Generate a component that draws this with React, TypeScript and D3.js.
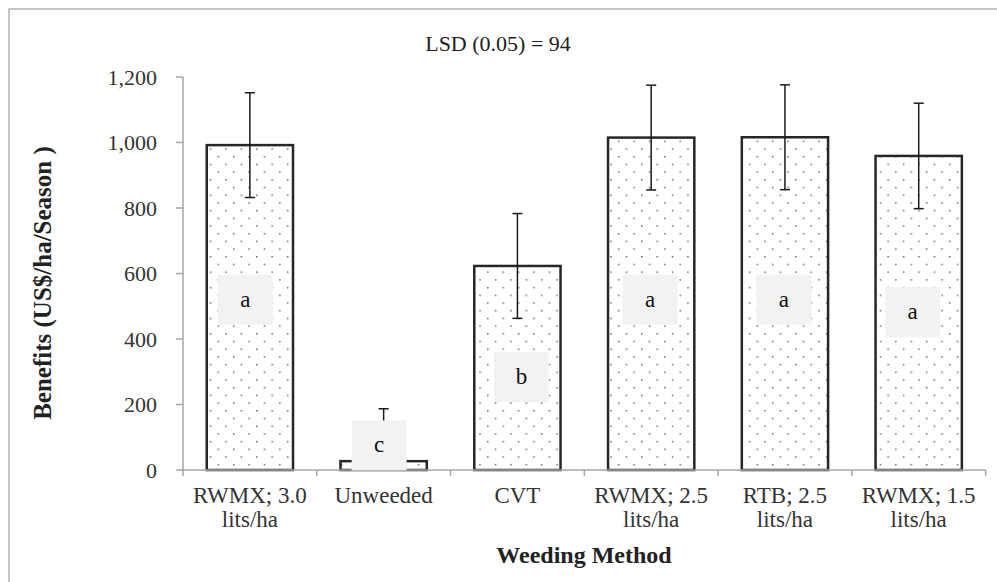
import React from "react";
import * as d3 from "d3";

const categories = ["RWMX; 3.0|lits/ha", "Unweeded", "CVT", "RWMX; 2.5|lits/ha", "RTB; 2.5|lits/ha", "RWMX; 1.5|lits/ha"];
const values = [992, 27, 623, 1015, 1016, 959];
const errors = [160, 160, 160, 160, 160, 161];
const letters = ["a", "c", "b", "a", "a", "a"];
const letterLevels = [520, 75, 284, 520, 520, 482];
const yTicks = [0, 200, 400, 600, 800, 1000, 1200];

const W = 997, H = 582;
const left = 183, right = 985.6, top = 77, bottom = 470;
const serif = "'Liberation Serif', 'Times New Roman', serif";

export default function App() {
  const x = d3.scaleBand<string>().domain(categories).range([left, right]).paddingInner(0.355).paddingOuter(0.1775);
  const y = d3.scaleLinear().domain([0, 1200]).range([bottom, top]);
  const step = x.step();
  const fmt = d3.format(",");
  const boxOffsets = [-4.5, -4.5, 4, -1, -1, -6];
  return (
    <svg width={W} height={H} style={{ position: "absolute", left: 0, top: 0, background: "#fff" }} fontFamily={serif}>
      <defs>
        <pattern id="dots" patternUnits="userSpaceOnUse" width={15.4} height={15.4} x={0} y={0}>
          <rect x={2} y={2} width={1.4} height={1.4} fill="#555" />
          <rect x={9.7} y={9.7} width={1.4} height={1.4} fill="#555" />
        </pattern>
      </defs>
      <rect x={9} y={9} width={1200} height={1200} fill="#fff" stroke="#b3b3b3" strokeWidth={1.5} />
      <text x={498} y={51} textAnchor="middle" fontSize={22} fill="#222">LSD (0.05) = 94</text>
      {/* y axis */}
      <line x1={left} x2={left} y1={top} y2={bottom} stroke="#a6a6a6" strokeWidth={1.5} />
      {yTicks.map((t) => (
        <g key={t}>
          <line x1={left - 7} x2={left} y1={y(t)} y2={y(t)} stroke="#a6a6a6" strokeWidth={1.5} />
          <text x={157} y={y(t) + 7.5} textAnchor="end" fontSize={22} fill="#333">{fmt(t)}</text>
        </g>
      ))}
      {/* bars */}
      {categories.map((c, i) => {
        const bx = x(c)!;
        const bw = x.bandwidth();
        const yt = y(values[i]);
        return (
          <g key={c}>
            <rect x={bx} y={yt} width={bw} height={bottom - yt} fill="#fff" />
            <rect x={bx} y={yt} width={bw} height={bottom - yt} fill="url(#dots)" stroke="#262626" strokeWidth={2.5} />
          </g>
        );
      })}
      {/* x axis */}
      <line x1={left} x2={right} y1={bottom} y2={bottom} stroke="#a6a6a6" strokeWidth={1.5} />
      {d3.range(categories.length + 1).map((k) => (
        <line key={k} x1={left + k * step} x2={left + k * step} y1={bottom} y2={bottom + 6} stroke="#a6a6a6" strokeWidth={1.5} />
      ))}
      {/* error bars */}
      {categories.map((c, i) => {
        const cx = x(c)! + x.bandwidth() / 2;
        const y1 = y(values[i] + errors[i]);
        const y0 = y(Math.max(0, values[i] - errors[i]));
        return (
          <g key={"e" + c} stroke="#1a1a1a" strokeWidth={1.5}>
            <line x1={cx} x2={cx} y1={y1} y2={y0} />
            <line x1={cx - 5} x2={cx + 5} y1={y1} y2={y1} />
            {values[i] - errors[i] > 0 && <line x1={cx - 5} x2={cx + 5} y1={y0} y2={y0} />}
          </g>
        );
      })}
      {/* letter labels */}
      {categories.map((c, i) => {
        const cx = x(c)! + x.bandwidth() / 2 + boxOffsets[i];
        const cy = y(letterLevels[i]);
        return (
          <g key={"l" + c}>
            <rect x={cx - 27.5} y={cy - 25} width={55} height={50} fill="#f2f2f2" />
            <text x={cx} y={cy + 7} textAnchor="middle" fontSize={23} fill="#111">{letters[i]}</text>
          </g>
        );
      })}
      {/* category labels */}
      {categories.map((c) => {
        const cx = x(c)! + x.bandwidth() / 2;
        return (
          <text key={"t" + c} textAnchor="middle" fontSize={23} fill="#333">
            {c.split("|").map((line, j) => (
              <tspan key={j} x={cx} y={503 + j * 24}>{line}</tspan>
            ))}
          </text>
        );
      })}
      <text x={584} y={563} textAnchor="middle" fontSize={24} fontWeight="bold" fill="#222">Weeding Method</text>
      <text transform={`translate(51,283) rotate(-90)`} textAnchor="middle" fontSize={25} fontWeight="bold" fill="#222">Benefits (US$/ha/Season )</text>
    </svg>
  );
}
